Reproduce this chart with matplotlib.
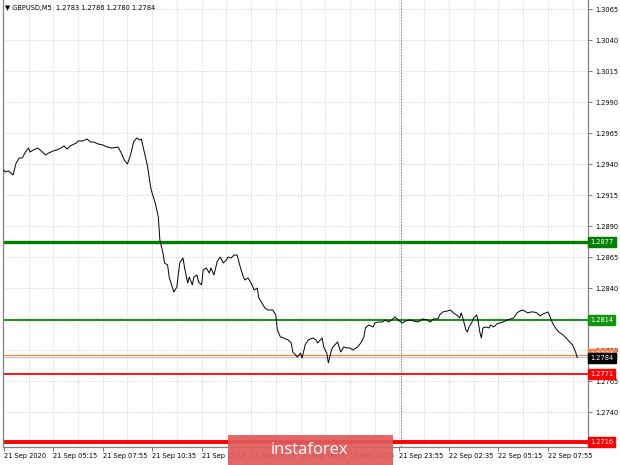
import numpy as np
from matplotlib import pyplot as plt
from matplotlib.patches import Rectangle

# M5 bar index and close price
bars = [0, 1, 3, 6, 8, 10, 12, 14, 16, 17, 19, 22, 25, 27, 29, 32, 34, 37, 39, 41,
        43, 47, 48, 51, 54, 56, 58, 61, 64, 67, 70, 74, 76, 78, 80, 82, 84, 86, 88, 89,
        90, 93, 95, 96, 98, 100, 101, 103, 104, 106, 107, 109, 110, 112, 113, 114, 116, 117, 119, 120,
        122, 123, 125, 126, 128, 129, 131, 133, 134, 136, 138, 140, 142, 144, 145, 147, 149, 151, 153, 155,
        156, 158, 160, 162, 164, 165, 167, 169, 171, 174, 176, 177, 179, 181, 184, 186, 187, 190, 192, 193,
        195, 197, 200, 202, 203, 206, 207, 209, 210, 212, 213, 216, 218, 220, 222, 224, 226, 229, 231, 233,
        234, 236, 239, 240, 242, 245, 247, 249, 251, 253, 255, 258, 260, 263, 265, 268, 270, 271, 274, 276,
        278, 281, 282, 284, 287, 289, 291, 293, 295, 296, 297, 299, 300, 301, 303, 304, 306, 307, 308, 309,
        310, 312, 314, 315, 317, 319, 321, 323, 326, 328, 330, 332, 334, 336, 339, 341, 343, 345, 347, 349,
        352, 353, 355, 357, 359, 362, 365, 368, 370, 371]
close = [1.29352, 1.29336, 1.29344, 1.29312, 1.29408, 1.29449, 1.29449, 1.29497, 1.29529, 1.29497,
         1.29513, 1.29529, 1.29497, 1.29473, 1.29489, 1.29505, 1.29513, 1.29529, 1.29546, 1.29521,
         1.29546, 1.29570, 1.29586, 1.29586, 1.29602, 1.29578, 1.29578, 1.29562, 1.29554, 1.29537,
         1.29529, 1.29537, 1.29489, 1.29433, 1.29400, 1.29473, 1.29578, 1.29610, 1.29594, 1.29602,
         1.29546, 1.29384, 1.29215, 1.29166, 1.29086, 1.28973, 1.28787, 1.28683, 1.28602, 1.28586,
         1.28489, 1.28408, 1.28368, 1.28408, 1.28521, 1.28610, 1.28642, 1.28562, 1.28441, 1.28489,
         1.28425, 1.28489, 1.28505, 1.28449, 1.28425, 1.28546, 1.28562, 1.28521, 1.28562, 1.28505,
         1.28610, 1.28650, 1.28602, 1.28626, 1.28650, 1.28642, 1.28666, 1.28666, 1.28570, 1.28489,
         1.28465, 1.28481, 1.28441, 1.28384, 1.28400, 1.28320, 1.28279, 1.28239, 1.28223, 1.28223,
         1.28183, 1.28062, 1.28005, 1.27997, 1.27981, 1.27957, 1.27884, 1.27844, 1.27876, 1.27836,
         1.27941, 1.27981, 1.27997, 1.27981, 1.27957, 1.27997, 1.27925, 1.27876, 1.27796, 1.27900,
         1.27925, 1.27965, 1.27884, 1.27925, 1.27917, 1.27917, 1.27900, 1.27925, 1.27957, 1.28005,
         1.28078, 1.28102, 1.28086, 1.28118, 1.28126, 1.28126, 1.28143, 1.28126, 1.28143, 1.28167,
         1.28143, 1.28118, 1.28135, 1.28143, 1.28135, 1.28126, 1.28143, 1.28151, 1.28143, 1.28126,
         1.28151, 1.28151, 1.28183, 1.28207, 1.28215, 1.28223, 1.28199, 1.28183, 1.28159, 1.28199,
         1.28159, 1.28062, 1.28046, 1.28086, 1.28126, 1.28159, 1.28183, 1.28126, 1.28046, 1.27997,
         1.28078, 1.28086, 1.28078, 1.28102, 1.28086, 1.28110, 1.28118, 1.28126, 1.28143, 1.28151,
         1.28159, 1.28199, 1.28215, 1.28223, 1.28199, 1.28207, 1.28207, 1.28199, 1.28175, 1.28191,
         1.28207, 1.28183, 1.28118, 1.28078, 1.28046, 1.28021, 1.27981, 1.27941, 1.27884, 1.27840]

tick_bars = [0, 32, 64, 96, 128, 160, 192, 224, 256, 288, 320, 352]
tick_labels = ['21 Sep 2020', '21 Sep 05:15', '21 Sep 07:55', '21 Sep 10:35', '21 Sep 13:15',
               '21 Sep 15:55', '21 Sep 18:35', '21 Sep 21:15', '21 Sep 23:55', '22 Sep 02:35',
               '22 Sep 05:15', '22 Sep 07:55']
price_ticks = [1.2715, 1.2740, 1.2765, 1.2790, 1.2815, 1.2840, 1.2865, 1.2890, 1.2915,
               1.2940, 1.2965, 1.2990, 1.3015, 1.3040, 1.3065]
# these two are hidden under the level boxes on the original
hidden_ticks = [1.2715, 1.2815]

levels = [1.2877, 1.2814, 1.2771, 1.2716]
level_colors = ['#008000', '#129412', '#ff0000', '#ff0000']
level_widths = [2.4, 1.4, 1.3, 2.8]
high_price = 1.2786
bid_price = 1.2784
day_sep = 257
header = '\u25bc GBPUSD,M5  1.2783 1.2786 1.2780 1.2784'

fig = plt.figure(figsize=(6.2, 4.65), dpi=100)
ax = fig.add_axes([3 / 620, 18 / 465, 585 / 620, 447 / 465])

ax.set_xlim(-0.5, 378)
ax.set_ylim(1.27118, 1.30723)

# grid
for b in range(16, 378, 16):
    ax.axvline(b, color='#cccccc', lw=0.5, ls=(0, (2, 2)), zorder=0)
for p in price_ticks:
    ax.axhline(p, color='#cccccc', lw=0.5, ls=(0, (2, 2)), zorder=0)
ax.axvline(day_sep, color='#707070', lw=0.6, ls=(0, (2, 1.5)), zorder=1)

for lv, c, w in zip(levels, level_colors, level_widths):
    ax.axhline(lv, color=c, lw=w, zorder=2)
ax.axhline(bid_price, color='#c8c8c8', lw=1.0, zorder=2)
ax.axhline(high_price, color='#ff8040', lw=0.8, zorder=2)

ax.plot(bars, close, color='black', lw=0.7, zorder=3)

ax.yaxis.tick_right()
ax.set_yticks(price_ticks)
ax.set_yticklabels(['' if p in hidden_ticks else '%.4f' % p for p in price_ticks])
ax.set_xticks(tick_bars)
ax.set_xticklabels(tick_labels, ha='left')
ax.tick_params(axis='both', labelsize=4.8, length=3, width=0.6, color='#606060', pad=1.5)
ax.tick_params(axis='y', pad=2)

for side in ['left', 'right', 'bottom']:
    ax.spines[side].set_color('#808080')
    ax.spines[side].set_linewidth(0.9)
ax.spines['top'].set_visible(False)

# price labels on the right axis
ytr = ax.get_yaxis_transform()
ax.text(1.004, high_price + 0.00005, '1.2786', transform=ytr, fontsize=4.8, color='white',
        ha='left', va='center', clip_on=False, zorder=5,
        bbox=dict(boxstyle='square,pad=0.3', fc='#ff8040', ec='#ff8040'))
ax.text(1.004, bid_price - 0.00002, '1.2784', transform=ytr, fontsize=4.8, color='white',
        ha='left', va='center', clip_on=False, zorder=6,
        bbox=dict(boxstyle='square,pad=0.3', fc='black', ec='black'))
for lv, c in zip(levels, level_colors):
    ax.text(1.004, lv, '%.4f' % lv, transform=ytr, fontsize=4.8, color='white',
            ha='left', va='center', clip_on=False, zorder=6,
            bbox=dict(boxstyle='square,pad=0.3', fc=c, ec=c))

fig.text(5 / 620, 1 - 8 / 465, header, fontsize=4.8, va='center', ha='left')

# watermark
fig.patches.append(Rectangle((228 / 620, 0), 165 / 620, 30 / 465, transform=fig.transFigure,
                             fc='#e05a5a', ec='none', alpha=0.92, zorder=10))
fig.text(310 / 620, 15 / 465, 'instaforex', color='white', fontsize=12, family='Open Sans',
         ha='center', va='center', zorder=11)

plt.savefig('out.png', dpi=100)
